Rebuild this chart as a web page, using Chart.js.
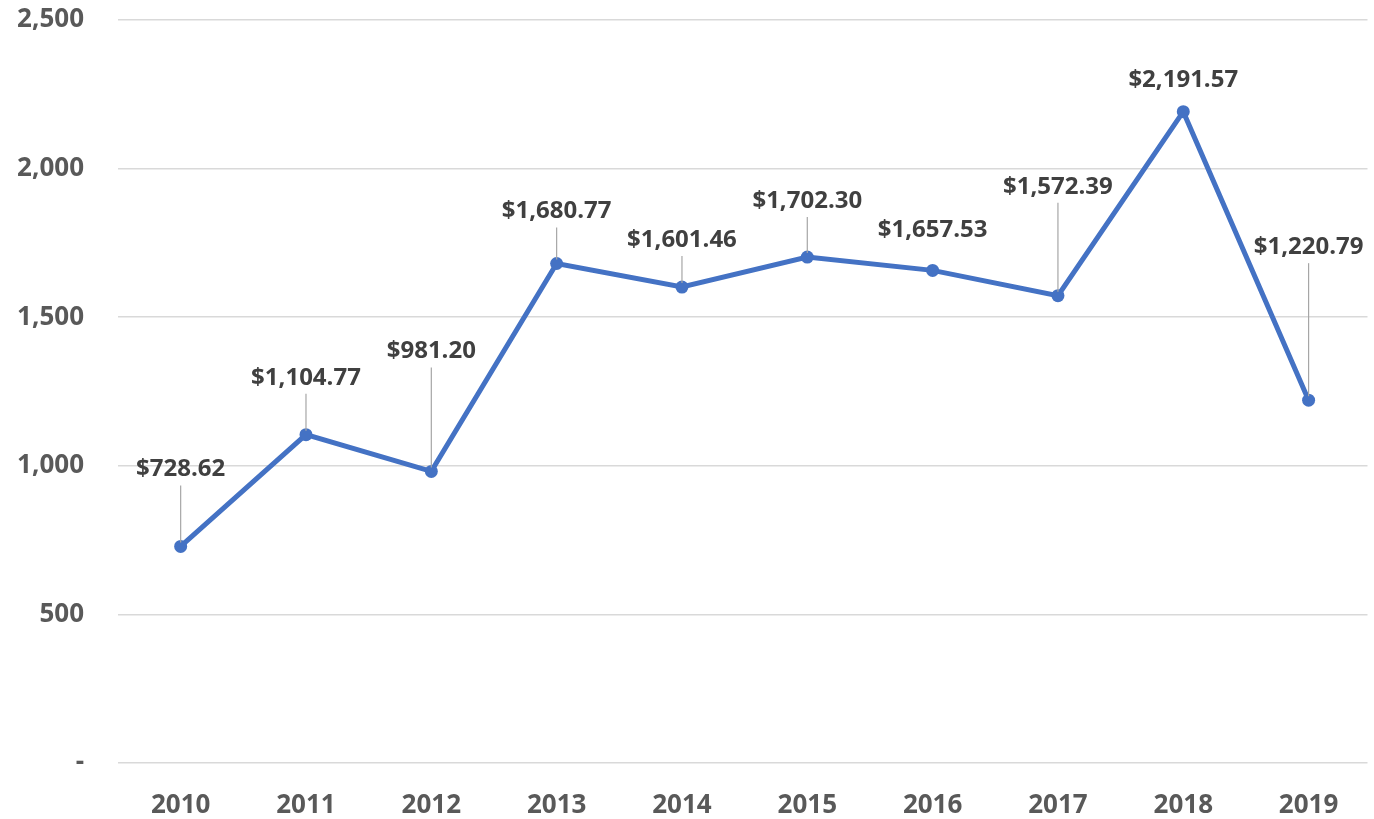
<!DOCTYPE html>
<html>
<head>
<meta charset="utf-8">
<script src="https://cdn.jsdelivr.net/npm/chart.js@4"></script>
<style>
  html, body { margin: 0; padding: 0; background: #fff; overflow: hidden; }
  #wrap { width: 1374px; height: 819px; }
</style>
</head>
<body>
<div id="wrap"><canvas id="salesChart" width="1374" height="819"></canvas></div>
<script>
const years = ["2010", "2011", "2012", "2013", "2014", "2015", "2016", "2017", "2018", "2019"];
const amounts = [728.62, 1104.77, 981.20, 1680.77, 1601.46, 1702.30, 1657.53, 1572.39, 2191.57, 1220.79];
const yTicks = [0, 500, 1000, 1500, 2000, 2500];

// how far above its point each value label sits (px)
const labelLift = [77, 57, 120, 52, 47, 56, 40, 109, 32, 153];

const FONT = "'Open Sans', sans-serif";

function money(v) {
    return "$" + v.toLocaleString("en-US", { minimumFractionDigits: 2, maximumFractionDigits: 2 });
}

// data labels with grey leader lines, Excel style
const leaderLabels = {
    id: "leaderLabels",
    afterDatasetsDraw(chart) {
        const ctx = chart.ctx;
        const meta = chart.getDatasetMeta(0);
        ctx.save();
        ctx.font = "bold 24px " + FONT;
        ctx.textAlign = "center";
        ctx.textBaseline = "middle";
        meta.data.forEach((pt, i) => {
            const lift = labelLift[i];
            const ly = pt.y - lift;
            if (lift > 40) {
                ctx.strokeStyle = "#a6a6a6";
                ctx.lineWidth = 1.2;
                ctx.beginPath();
                ctx.moveTo(pt.x, ly + 16);
                ctx.lineTo(pt.x, pt.y - 4);
                ctx.stroke();
            }
            ctx.fillStyle = "#404040";
            ctx.fillText(money(amounts[i]), pt.x, ly);
        });
        ctx.restore();
    }
};

new Chart(document.getElementById("salesChart"), {
    type: "line",
    data: {
        datasets: [{
            data: amounts.map((v, i) => ({ x: i, y: v })),
            borderColor: "#4472c4",
            backgroundColor: "#4472c4",
            borderWidth: 5,
            pointRadius: 6.5,
            pointBorderWidth: 0,
            pointBackgroundColor: "#4472c4",
            fill: false,
            tension: 0
        }]
    },
    options: {
        responsive: false,
        animation: false,
        layout: { padding: { top: 20, right: 0, left: 0, bottom: 0 } },
        plugins: {
            legend: { display: false },
            tooltip: { enabled: false }
        },
        scales: {
            x: {
                type: "linear",
                min: -0.5,
                max: 9.47,  // plot runs a little past the right edge, as in Excel
                afterBuildTicks(axis) { axis.ticks = years.map((y, i) => ({ value: i })); },
                grid: { display: false, drawTicks: false },
                border: { display: false },
                ticks: {
                    autoSkip: false,
                    maxRotation: 0,
                    color: "#595959",
                    font: { family: FONT, size: 26, weight: "bold" },
                    padding: 27,
                    callback: v => years[v]
                },
                afterFit(axis) {
                    axis.height = 56;
                    axis.paddingLeft = 0;
                    axis.paddingRight = 0;
                }
            },
            y: {
                min: 0,
                max: 2500,
                afterBuildTicks(axis) { axis.ticks = yTicks.map(v => ({ value: v })); },
                grid: { color: "#d9d9d9", lineWidth: 1.5, drawTicks: false },
                border: { display: false },
                ticks: {
                    color: "#595959",
                    font: { family: FONT, size: 26, weight: "bold" },
                    padding: 34,
                    callback: v => v === 0 ? "-" : v.toLocaleString("en-US")
                },
                afterFit(axis) {
                    axis.width = 118;
                    axis.paddingTop = 0;
                    axis.paddingBottom = 0;
                }
            }
        }
    },
    plugins: [leaderLabels]
});
</script>
</body>
</html>
